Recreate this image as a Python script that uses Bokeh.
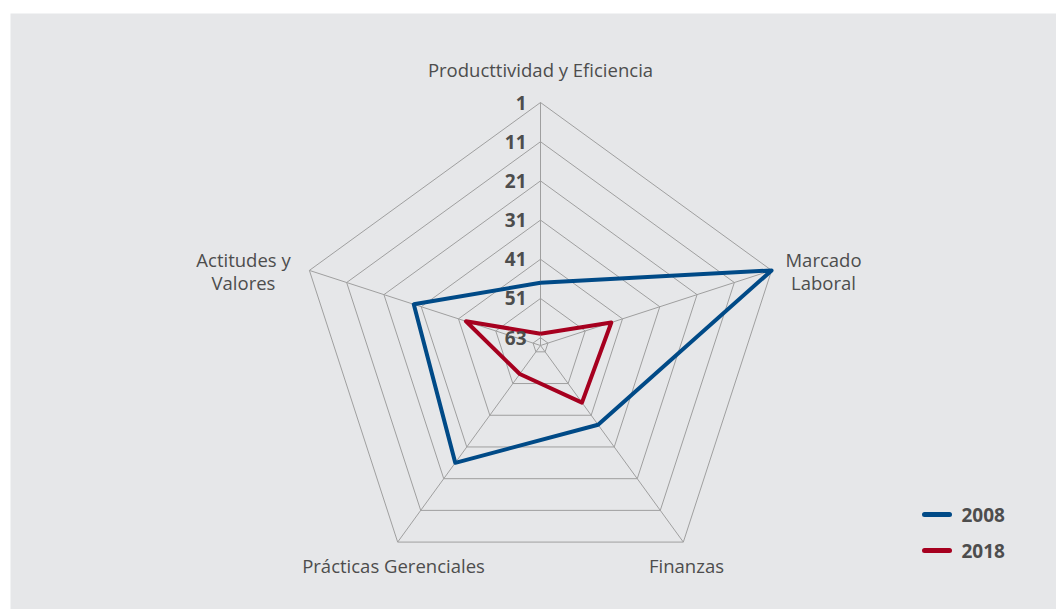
import numpy as np
from bokeh.plotting import figure
from bokeh.models import Range1d
from bokeh.core.properties import value
from bokeh.embed import file_html
from bokeh.resources import INLINE

# ---- data ----
categories = ["Producttividad y Eficiencia", "Marcado\nLaboral", "Finanzas",
              "Prácticas Gerenciales", "Actitudes y\nValores"]
series_names = ["2008", "2018"]
values_2008 = [47, 1, 38, 26, 29]
values_2018 = [60, 44, 45, 54, 43]
ring_values = [1, 11, 21, 31, 41, 51, 61]
tick_labels = ["1", "11", "21", "31", "41", "51", "63"]
scale_min = 1      # outer ring (best rank)
scale_max = 63     # centre (worst rank)

# ---- styling / layout ----
R = 243.0
BG = "#e6e7e9"
GRID = "#9f9f9f"
TXT = "#4d4d4d"
colors = ["#004a87", "#a6001f"]
FONT = "Open Sans"
LINE_GAP = 23

n = len(categories)
ang = np.deg2rad(90 - 72 * np.arange(n))

def radius(v):
    return (scale_max - np.asarray(v, dtype=float)) / (scale_max - scale_min) * R

def xy(vals):
    r = radius(vals)
    return list(r * np.cos(ang)), list(r * np.sin(ang))

p = figure(width=1056, height=609, output_backend="svg", toolbar_location=None,
           x_range=Range1d(-530, 516), y_range=Range1d(-264, 332),
           x_axis_location=None, y_axis_location=None,
           min_border_left=10, min_border_top=13, min_border_right=0, min_border_bottom=0)
p.background_fill_color = BG
p.border_fill_color = "white"
p.outline_line_color = None
p.grid.visible = False

# rings
for rv in ring_values:
    xs, ys = xy([rv] * n)
    p.line(xs + [xs[0]], ys + [ys[0]], line_color=GRID, line_width=1)
# spokes
ox, oy = xy([scale_min] * n)
for i in range(n):
    p.line([0, ox[i]], [0, oy[i]], line_color=GRID, line_width=1)

# series
for vals, c in zip([values_2008, values_2018], colors):
    xs, ys = xy(vals)
    p.line(xs + [xs[0]], ys + [ys[0]], line_color=c, line_width=4, line_join="round")

# tick labels (along the top spoke)
tick_y = list(radius(ring_values))
p.text(x=[-14] * len(tick_labels), y=tick_y, text=tick_labels,
       text_align="right", text_baseline="middle", text_color=TXT,
       text_font=value(FONT), text_font_style="bold", text_font_size="19px")

# category labels (centre of each label block)
cat_pos = [(0, 276), (283, 75), (146, -220), (-147, -220), (-297, 75)]
for lab, (cx, cy) in zip(categories, cat_pos):
    lines = lab.split("\n")
    top = cy + (len(lines) - 1) * LINE_GAP / 2
    ys = [top - k * LINE_GAP for k in range(len(lines))]
    p.text(x=[cx] * len(lines), y=ys, text=lines, text_align="center",
           text_baseline="middle", text_color=TXT, text_font=value(FONT),
           text_font_size="18.5px")

# legend
leg_y = [-169, -205]
for name, c, ly in zip(series_names, colors, leg_y):
    p.line([384, 409], [ly, ly], line_color=c, line_width=5, line_cap="round")
    p.text(x=[421], y=[ly], text=[name], text_baseline="middle", text_color=TXT,
           text_font=value(FONT), text_font_style="bold", text_font_size="19px")

open("out.html", "w").write(file_html(p, INLINE))
